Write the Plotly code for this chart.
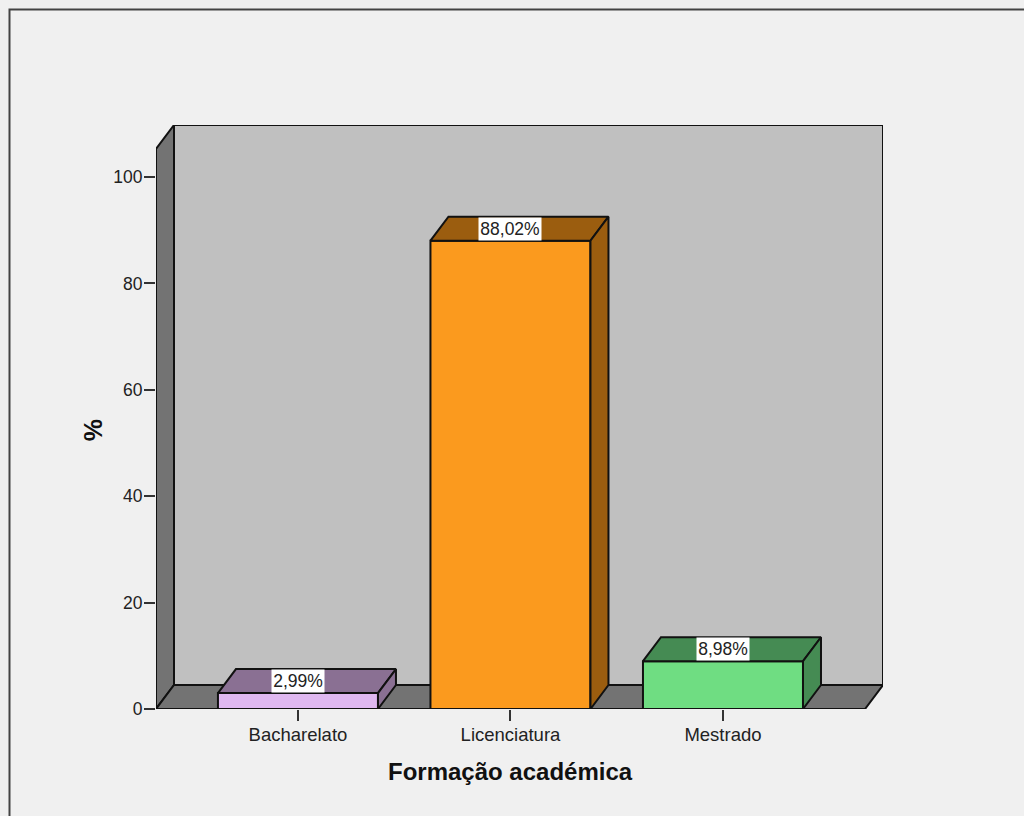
import plotly.graph_objects as go

# Data
categories = ["Bacharelato", "Licenciatura", "Mestrado"]
values = [2.99, 88.02, 8.98]
value_labels = ["2,99%", "88,02%", "8,98%"]
y_ticks = [0, 20, 40, 60, 80, 100]
front_colors = ["#DFB8F0", "#FB9A1E", "#6FDD82"]
depth_colors = ["#8A7093", "#9B5D0F", "#458B53"]
label_widths = [52, 62, 52]

# Styling and geometry in axis units
positions = [0, 1, 2]
bar_width = 0.753
depth_x = 0.0847
depth_y = 4.51
x_min, x_max = -0.668, 2.753
y_max = 109.77
outline = "#111111"
line_w = 2
font_name = "Liberation Sans, Arial, sans-serif"

fig = go.Figure()

# Front faces of the bars
fig.add_trace(go.Bar(
    x=positions, y=values, width=bar_width,
    marker=dict(color=front_colors, line=dict(color=outline, width=line_w)),
    hoverinfo="skip", showlegend=False,
))

# Top and side faces of the bars
for p, v, c in zip(positions, values, depth_colors):
    left, right = p - bar_width / 2, p + bar_width / 2
    fig.add_trace(go.Scatter(
        x=[left, right, right + depth_x, left + depth_x, left],
        y=[v, v, v + depth_y, v + depth_y, v],
        mode="lines", fill="toself", fillcolor=c,
        line=dict(color=outline, width=line_w),
        hoverinfo="skip", showlegend=False,
    ))
    fig.add_trace(go.Scatter(
        x=[right, right + depth_x, right + depth_x, right, right],
        y=[0, depth_y, v + depth_y, v, 0],
        mode="lines", fill="toself", fillcolor=c,
        line=dict(color=outline, width=line_w),
        hoverinfo="skip", showlegend=False,
    ))

# Chart box: back wall, left wall and floor
def wall(xs, ys, color):
    path = "M " + " L ".join(f"{x},{y}" for x, y in zip(xs, ys)) + " Z"
    return dict(type="path", path=path, xref="x", yref="y", layer="below",
                fillcolor=color, line=dict(color=outline, width=line_w))

shapes = [
    wall([x_min + depth_x, x_max, x_max, x_min + depth_x],
         [depth_y, depth_y, y_max, y_max], "#C0C0C0"),
    wall([x_min, x_min + depth_x, x_min + depth_x, x_min],
         [0, depth_y, y_max, y_max - depth_y], "#737373"),
    wall([x_min, x_min + depth_x, x_max, x_max - depth_x],
         [0, depth_y, depth_y, 0], "#737373"),
]

# Outer frame, open at the right and bottom
plot_w, plot_h = 727, 584
frame_x = (9.5 - 156) / plot_w
frame_y = 1 + (125 - 9.5) / plot_h
shapes.append(dict(type="path", xref="paper", yref="paper",
                   path=f"M {frame_x},{1 - (816 - 125) / plot_h} L {frame_x},{frame_y} "
                        f"L {(1024 - 156) / plot_w},{frame_y}",
                   line=dict(color="#444444", width=2)))

annotations = [
    dict(x=p, y=v + depth_y / 2, text=t, xref="x", yref="y", showarrow=False,
         xanchor="center", yanchor="middle", bgcolor="#FFFFFF", width=w, height=22,
         borderpad=0, font=dict(family=font_name, size=17.5, color="#222222"))
    for p, v, t, w in zip(positions, values, value_labels, label_widths)
]

# Axis titles, placed off the plot-area centre as in the reference
annotations.append(dict(
    text="<b>Formação académica</b>", x=positions[1], xref="x",
    y=-(771 - 709) / plot_h, yref="paper", showarrow=False,
    xanchor="center", yanchor="middle",
    font=dict(family=font_name, size=24, color="#111111"),
))
annotations.append(dict(
    text="<b>%</b>", y=52.4, yref="y", x=(93 - 156) / plot_w, xref="paper",
    textangle=-90, showarrow=False, xanchor="center", yanchor="middle",
    font=dict(family=font_name, size=25, color="#111111"),
))

fig.update_layout(
    width=1024, height=816, autosize=False,
    margin=dict(l=156, r=141, t=125, b=107),
    paper_bgcolor="#F0F0F0", plot_bgcolor="rgba(0,0,0,0)",
    shapes=shapes, annotations=annotations,
    showlegend=False,
    font=dict(family=font_name, color="#222222"),
    xaxis=dict(
        range=[x_min, x_max], tickmode="array", tickvals=positions, ticktext=categories,
        showgrid=False, zeroline=False, showline=False,
        ticks="outside", ticklen=11, tickwidth=2, tickcolor="#333333",
        ticklabelstandoff=-2,
        tickfont=dict(family=font_name, size=18.5, color="#222222"),
    ),
    yaxis=dict(
        range=[0, y_max], tickmode="array", tickvals=y_ticks,
        showgrid=False, zeroline=False, showline=False,
        ticks="outside", ticklen=11, tickwidth=2, tickcolor="#333333",
        ticklabelstandoff=-2,
        tickfont=dict(family=font_name, size=17.5, color="#222222"),
    ),
)

fig.write_html(
    "out.html",
    config={"displayModeBar": False},
    post_script="document.body.style.margin='0';document.body.style.overflow='hidden';",
)
